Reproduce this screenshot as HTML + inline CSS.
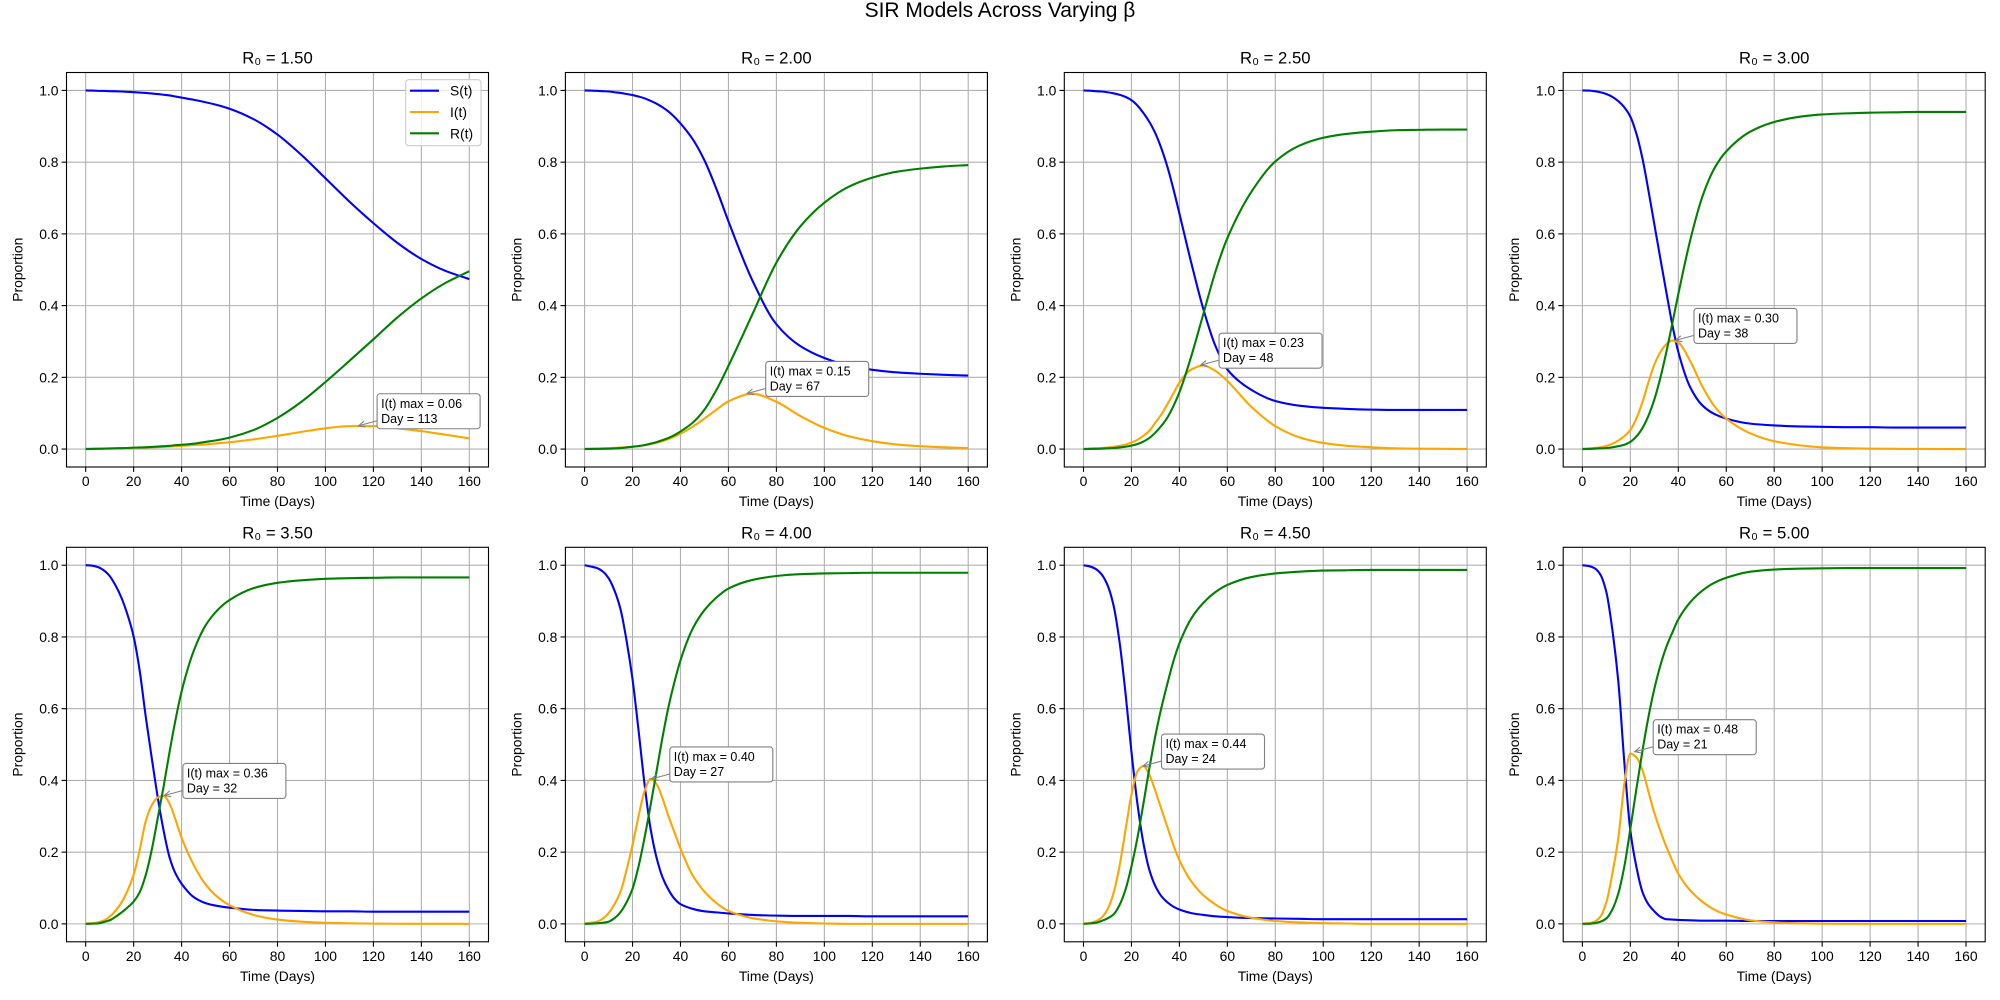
<!DOCTYPE html>
<html><head><meta charset="utf-8"><title>SIR Models Across Varying β</title>
<style>
html,body{margin:0;padding:0;background:#fff;}
svg{display:block;font-family:"Liberation Sans","DejaVu Sans",sans-serif;}
</style></head>
<body>
<svg id="fig" width="2000" height="1000" viewBox="0 0 2000 1000" xmlns="http://www.w3.org/2000/svg">
<rect width="2000" height="1000" fill="#fff"/>
<text x="1000" y="17" font-size="21" text-anchor="middle" fill="#000">SIR Models Across Varying β</text>
</svg>
<script>
const days = [0,2.5,5,7.5,10,12.5,15,17.5,20,22.5,25,27.5,30,32.5,35,37.5,40,45,50,55,60,70,80,90,100,110,120,130,140,150,160];
const xTicks = [0,20,40,60,80,100,120,140,160];
const yTicks = [0.0,0.2,0.4,0.6,0.8,1.0];
const yTickLabels = ["0.0","0.2","0.4","0.6","0.8","1.0"];
const r0Labels = ["1.50","2.00","2.50","3.00","3.50","4.00","4.50","5.00"];
const peakVals = [0.065,0.155,0.234,0.303,0.358,0.404,0.44,0.48];
const peakLabels = ["0.06","0.15","0.23","0.30","0.36","0.40","0.44","0.48"];
const peakDays = [113,67,48,38,32,27,24,21];

const s1 = [1,.9995,.999,.9985,.998,.9975,.997,.996,.995,.994,.993,.9915,.99,.988,.986,.983,.98,.974,.967,.959,.949,.92,.877,.82,.755,.69,.63,.575,.53,.497,.474];
const i1 = [.001,.0012,.0013,.0016,.002,.0023,.0027,.003,.0035,.004,.0045,.005,.0055,.0063,.007,.008,.009,.011,.013,.016,.019,.027,.037,.048,.058,.064,.064,.058,.05,.04,.03];
const r1 = [0,.0003,.0007,.001,.0015,.002,.0025,.003,.004,.0045,.005,.006,.007,.008,.009,.011,.012,.015,.02,.025,.032,.053,.087,.132,.187,.246,.306,.367,.42,.463,.496];

const s2 = [1,.9995,.999,.998,.997,.995,.993,.99,.987,.983,.978,.971,.963,.953,.941,.926,.908,.865,.805,.725,.635,.47,.348,.287,.254,.233,.221,.214,.21,.207,.205];
const i2 = [.001,.0013,.0016,.002,.0026,.0033,.0042,.0053,.0067,.0085,.011,.014,.0175,.022,.028,.035,.043,.062,.085,.11,.133,.154,.132,.092,.059,.036,.022,.013,.008,.005,.003];
const r2 = [0,.0002,.0004,.0007,.001,.0017,.0028,.0047,.0063,.0085,.011,.015,.0195,.025,.031,.039,.049,.073,.11,.165,.232,.376,.52,.621,.687,.731,.757,.773,.782,.788,.792];

const s3 = [1,.9993,.998,.997,.995,.992,.988,.982,.973,.958,.937,.912,.88,.838,.787,.725,.657,.518,.39,.288,.222,.165,.134,.121,.115,.112,.11,.109,.109,.109,.109];
const i3 = [.001,.0014,.002,.003,.0043,.006,.0087,.0125,.018,.026,.037,.051,.074,.097,.125,.155,.185,.222,.233,.218,.19,.118,.064,.033,.017,.009,.005,.002,.001,.0006,.0003];
const r3 = [0,.0003,.0007,.0012,.002,.003,.0045,.0065,.0095,.014,.021,.031,.046,.065,.088,.12,.158,.26,.377,.494,.588,.717,.802,.846,.868,.879,.885,.889,.89,.891,.891];

const s4 = [1,.9995,.998,.995,.99,.982,.97,.953,.927,.88,.812,.723,.627,.532,.438,.347,.271,.172,.122,.098,.085,.071,.066,.063,.062,.061,.061,.06,.06,.06,.06];
const i4 = [.001,.0017,.003,.005,.009,.015,.024,.036,.053,.085,.13,.185,.235,.27,.292,.303,.297,.245,.175,.12,.085,.044,.022,.011,.005,.0025,.0012,.0006,.0003,.0001,.0001];
const r4 = [0,.0003,.001,.002,.003,.005,.008,.012,.02,.035,.058,.092,.138,.198,.27,.35,.432,.583,.703,.782,.83,.885,.912,.926,.933,.936,.938,.939,.94,.94,.94];

const s5 = [1,.999,.995,.986,.97,.943,.908,.861,.801,.707,.58,.465,.355,.26,.185,.14,.112,.075,.058,.05,.045,.039,.037,.036,.035,.035,.034,.034,.034,.034,.034];
const i5 = [.001,.002,.004,.009,.02,.037,.06,.093,.137,.205,.285,.33,.352,.357,.335,.29,.24,.165,.11,.075,.052,.025,.012,.006,.003,.0015,.0007,.0003,.0002,.0001,0];
const r5 = [0,.0003,.001,.005,.01,.02,.032,.046,.062,.088,.135,.205,.293,.383,.48,.57,.648,.76,.832,.875,.903,.936,.951,.958,.962,.964,.965,.966,.966,.966,.966];

const s6 = [1,.9965,.9925,.983,.964,.929,.877,.79,.682,.54,.39,.266,.185,.13,.095,.07,.055,.042,.035,.032,.029,.025,.023,.022,.022,.022,.021,.021,.021,.021,.021];
const i6 = [.001,.003,.006,.014,.03,.055,.09,.15,.22,.30,.37,.404,.39,.35,.30,.255,.21,.136,.09,.058,.036,.016,.007,.003,.001,0,0,0,0,0,0];
const r6 = [0,.0005,.0015,.003,.006,.016,.033,.06,.098,.16,.24,.33,.425,.52,.605,.675,.735,.822,.875,.91,.935,.959,.97,.975,.977,.978,.979,.979,.979,.979,.979];

const s7 = [1,.997,.99,.975,.945,.889,.788,.645,.48,.335,.225,.15,.105,.077,.06,.048,.04,.03,.025,.021,.019,.016,.015,.014,.013,.013,.013,.013,.013,.013,.013];
const i7 = [.001,.002,.007,.017,.04,.085,.16,.26,.36,.425,.44,.415,.37,.32,.27,.22,.178,.118,.08,.054,.036,.017,.008,.004,.002,.001,0,0,0,0,0];
const r7 = [0,.001,.003,.008,.015,.026,.052,.095,.16,.24,.335,.435,.525,.603,.67,.732,.782,.852,.895,.925,.945,.967,.977,.982,.985,.986,.987,.987,.987,.987,.987];

const s8 = [1,.998,.992,.974,.925,.82,.675,.45,.26,.16,.09,.055,.035,.02,.013,.012,.011,.01,.009,.009,.009,.008,.008,.008,.008,.008,.008,.008,.008,.008,.008];
const i8 = [.001,.0018,.006,.02,.06,.14,.24,.39,.475,.465,.43,.37,.31,.26,.215,.176,.14,.093,.062,.04,.026,.01,.004,.0015,.0006,.0002,0,0,0,0,0];
const r8 = [0,.0002,.002,.006,.015,.04,.085,.16,.265,.375,.48,.575,.655,.72,.772,.812,.849,.897,.929,.951,.965,.982,.988,.9905,.9914,.992,.992,.992,.992,.992,.992];

const seriesS = [s1,s2,s3,s4,s5,s6,s7,s8];
const seriesI = [i1,i2,i3,i4,i5,i6,i7,i8];
const seriesR = [r1,r2,r3,r4,r5,r6,r7,r8];

const NS = "http://www.w3.org/2000/svg";
const svg = document.getElementById('fig');
function mk(tag, attrs, parent){
  const e = document.createElementNS(NS, tag);
  for (const k in attrs) e.setAttribute(k, attrs[k]);
  (parent||svg).appendChild(e);
  return e;
}
const AX_W = 422, AX_H = 394.5;
const XMIN = -8, XMAX = 168, YMIN = -0.05, YMAX = 1.05;

function monoPath(xs, ys, fx, fy){
  const n = xs.length, h = [], d = [], m = [];
  for (let k=0;k<n-1;k++){ h[k]=xs[k+1]-xs[k]; d[k]=(ys[k+1]-ys[k])/h[k]; }
  m[0]=d[0]; m[n-1]=d[n-2];
  for (let k=1;k<n-1;k++){
    if (d[k-1]*d[k] <= 0) m[k]=0;
    else { const w1=2*h[k]+h[k-1], w2=h[k]+2*h[k-1]; m[k]=(w1+w2)/(w1/d[k-1]+w2/d[k]); }
  }
  let p = "M"+fx(xs[0]).toFixed(2)+","+fy(ys[0]).toFixed(2);
  for (let k=0;k<n-1;k++){
    const c1x=xs[k]+h[k]/3, c1y=ys[k]+m[k]*h[k]/3, c2x=xs[k+1]-h[k]/3, c2y=ys[k+1]-m[k+1]*h[k]/3;
    p += "C"+fx(c1x).toFixed(2)+","+fy(c1y).toFixed(2)+" "+fx(c2x).toFixed(2)+","+fy(c2y).toFixed(2)+" "+fx(xs[k+1]).toFixed(2)+","+fy(ys[k+1]).toFixed(2);
  }
  return p;
}

for (let p=0;p<8;p++){
  const col=p%4, row=Math.floor(p/4);
  const L = 66.5 + col*498.9, T = 72.5 + row*474.8;
  const fx = v => L + (v - XMIN)/(XMAX - XMIN)*AX_W;
  const fy = v => T + AX_H - (v - YMIN)/(YMAX - YMIN)*AX_H;
  const g = mk('g', {});
  
  
  mk('rect',{x:L,y:T,width:AX_W,height:AX_H,fill:'#fff'},g);
  xTicks.forEach(t=>{
    const ln = mk('line',{x1:fx(t),x2:fx(t),y1:T,y2:T+AX_H,stroke:'#b0b0b0','stroke-width':1.1},g);
    
    
    mk('line',{x1:fx(t),x2:fx(t),y1:T+AX_H,y2:T+AX_H+4.9,stroke:'#000','stroke-width':1.1},g);
    const tx = mk('text',{x:fx(t),y:T+AX_H+19,'font-size':13.9,'text-anchor':'middle',fill:'#000'},g);
    tx.textContent = String(t);
    
    
  });
  yTicks.forEach((t,i)=>{
    const ln = mk('line',{x1:L,x2:L+AX_W,y1:fy(t),y2:fy(t),stroke:'#b0b0b0','stroke-width':1.1},g);
    
    
    mk('line',{x1:L-4.9,x2:L,y1:fy(t),y2:fy(t),stroke:'#000','stroke-width':1.1},g);
    const tx = mk('text',{x:L-8,y:fy(t)+5,'font-size':13.9,'text-anchor':'end',fill:'#000'},g);
    tx.textContent = yTickLabels[i];
    
    
  });
  const cols = ['#0000ff','#ffa500','#008000'];
  const names = ['s-line','i-line','r-line'];
  [seriesS[p],seriesI[p],seriesR[p]].forEach((arr,si)=>{
    const path = mk('path',{d:monoPath(days,arr,fx,fy),fill:'none',stroke:cols[si],'stroke-width':2.1,'stroke-linejoin':'round'},g);
    
    
  });
  mk('rect',{x:L,y:T,width:AX_W,height:AX_H,fill:'none',stroke:'#000','stroke-width':1.1},g);
  const tt = mk('text',{x:L+AX_W/2,y:T-9,'font-size':16.7,'text-anchor':'middle',fill:'#000'},g);
  tt.textContent = 'R\u2080 = '+r0Labels[p];
  
  
  const xl = mk('text',{x:L+AX_W/2,y:T+AX_H+39,'font-size':13.9,'text-anchor':'middle',fill:'#000'},g);
  xl.textContent = 'Time (Days)';
  
  
  const yx = L-44, yy = T+AX_H/2;
  const yl = mk('text',{x:yx,y:yy,'font-size':13.9,'text-anchor':'middle',fill:'#000',transform:'rotate(-90 '+yx+' '+yy+')'},g);
  yl.textContent = 'Proportion';
  
  
  const px = fx(peakDays[p]), py = fy(peakVals[p]);
  const bx = fx(peakDays[p]+10) - 3.5, bBottom = py + 3, bTop = bBottom - 35;
  const ann = mk('g',{},g);
  
  
  const ay = bBottom - 8;
  mk('line',{x1:bx,y1:ay,x2:px+2,y2:py,stroke:'#808080','stroke-width':1.1},ann);
  const ang = Math.atan2(ay-py, bx-(px+2));
  const hl=7, hx=px+2, hy=py;
  mk('path',{d:'M'+(hx+hl*Math.cos(ang+0.45))+','+(hy+hl*Math.sin(ang+0.45))+' L'+hx+','+hy+' L'+(hx+hl*Math.cos(ang-0.45))+','+(hy+hl*Math.sin(ang-0.45)),fill:'none',stroke:'#808080','stroke-width':1.1},ann);
  mk('rect',{x:bx,y:bTop,width:103,height:35,rx:3,ry:3,fill:'#fff',stroke:'#808080','stroke-width':1.1},ann);
  const at1 = mk('text',{x:bx+4,y:bTop+14,'font-size':12.5,fill:'#000'},ann);
  at1.textContent = 'I(t) max = '+peakLabels[p];
  const at2 = mk('text',{x:bx+4,y:bTop+29,'font-size':12.5,fill:'#000'},ann);
  at2.textContent = 'Day = '+peakDays[p];
  if (p===0){
    const lg = mk('g',{},g);
    
    
    mk('rect',{x:405.7,y:79.7,width:75.3,height:66,rx:3,ry:3,fill:'#fff','fill-opacity':0.8,stroke:'#cccccc','stroke-width':1.1},lg);
    const labs=['S(t)','I(t)','R(t)'];
    labs.forEach((lb,i)=>{
      const yv = 90.7 + i*21.3;
      const e = mk('g',{},lg);
      
      
      mk('line',{x1:410,x2:439,y1:yv,y2:yv,stroke:cols[i],'stroke-width':2.1},e);
      const tx = mk('text',{x:450,y:yv+5,'font-size':13.9,fill:'#000'},e);
      tx.textContent = lb;
    });
  }
}
</script>
</body></html>
